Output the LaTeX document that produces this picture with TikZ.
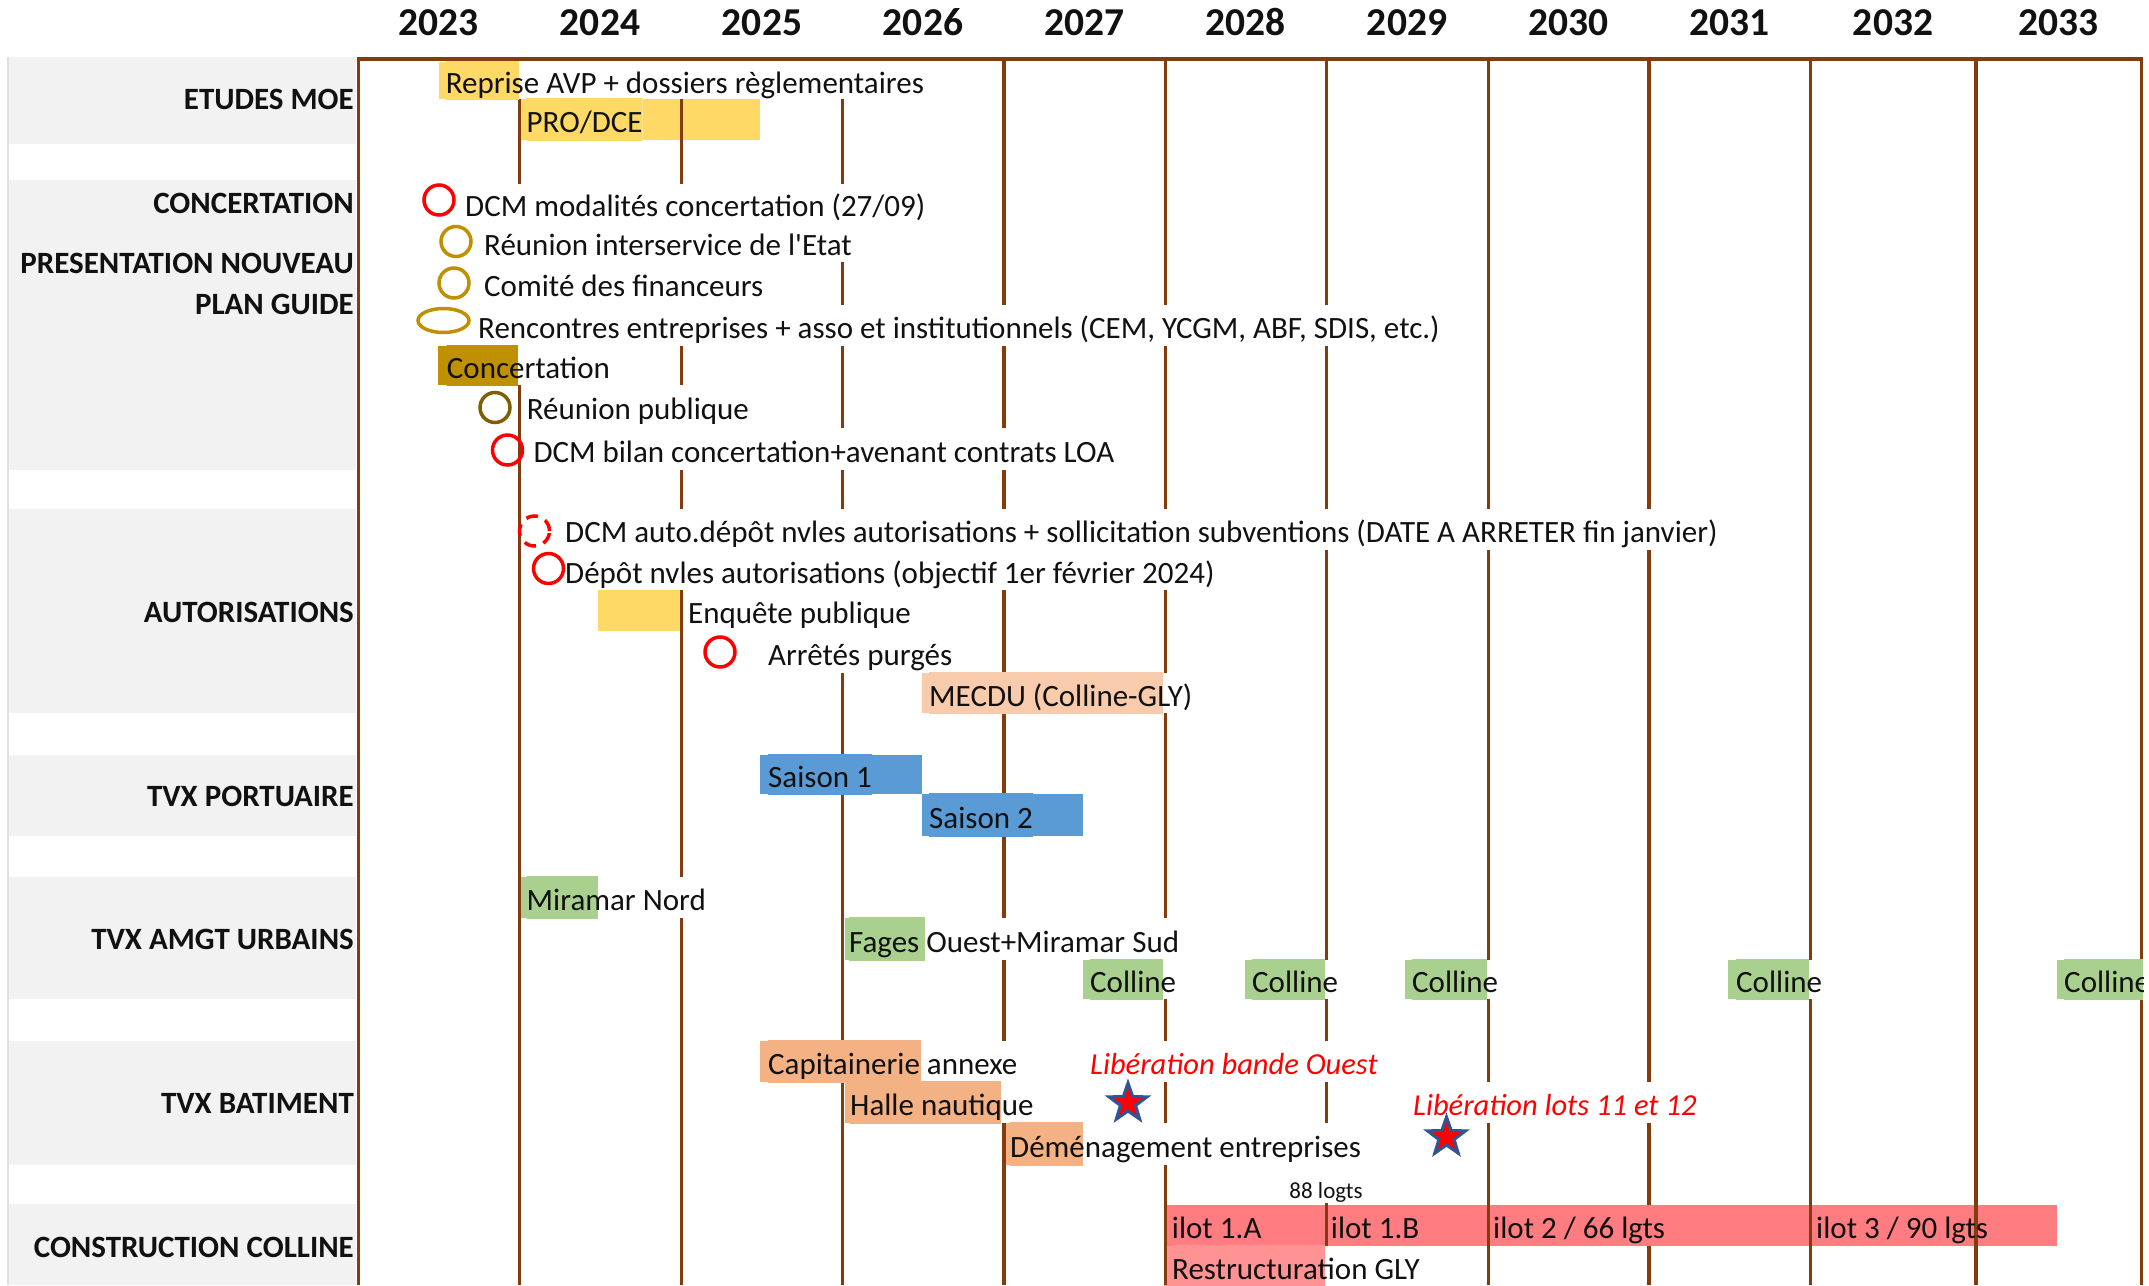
\documentclass[tikz,border=0pt]{standalone}
\usepackage{fontspec}
\setmainfont{Carlito}[Ligatures=TeXOff]
\usetikzlibrary{shapes.geometric}
\pgfdeclarelayer{bars}
\pgfdeclarelayer{grid}
\pgfdeclarelayer{knock}
\pgfsetlayers{bars,grid,knock,main}
\definecolor{brownline}{HTML}{843C0C}
\definecolor{yelbar}{HTML}{FFD966}
\definecolor{goldbar}{HTML}{BF9000}
\definecolor{ocircle}{HTML}{7F6000}
\definecolor{peachbar}{HTML}{F8CBAD}
\definecolor{bluebar}{HTML}{5B9BD5}
\definecolor{greenbar}{HTML}{A9D08E}
\definecolor{salmonbar}{HTML}{F4B183}
\definecolor{redbar}{HTML}{FF7C80}
\definecolor{pinkbar}{HTML}{FF9393}
\definecolor{panel}{HTML}{F2F2F2}
\definecolor{starline}{HTML}{2F5597}
\definecolor{txt}{HTML}{111111}
\newcommand{\mytxt}[6]{%
  \node[lbl,minimum height={#4-#3},#6] (#1) at (#2,{(#3+#4)/2}) {#5};
  \begin{pgfonlayer}{knock}\fill[white] (#1.south west) rectangle (#1.north east);\end{pgfonlayer}}
\newcommand{\mybar}[4]{%
  \begin{pgfonlayer}{knock}\begin{scope}\clip (#1.south west) rectangle (#1.north east);\fill[#2] (#3,0) rectangle (#4,1300);\end{scope}\end{pgfonlayer}}
\begin{document}
\begin{tikzpicture}[x=1pt,y=-1pt,
  lbl/.style={anchor=west,inner xsep=0pt,inner ysep=0pt,text height=27pt,text depth=1pt,font=\fontsize{31}{37}\selectfont,text=txt},
  rowlab/.style={anchor=base east,inner sep=0pt,font=\bfseries\fontsize{31}{37}\selectfont,text=txt},
  yearlab/.style={anchor=base,inner sep=0pt,font=\bfseries\fontsize{39.5}{46}\selectfont,text=txt},
  gl/.style={draw=brownline,line width=3pt},
  glt/.style={draw=brownline,line width=3.8pt},
  circ/.style={circle,minimum size=30pt,inner sep=0pt,line width=3.5pt},
  ell/.style={ellipse,minimum width=51pt,minimum height=24pt,inner sep=0pt,line width=3.5pt},
  starsty/.style={star,star points=5,star point ratio=2.5,minimum size=40pt,inner sep=0pt,fill=red,draw=starline,line width=3pt},
  redit/.style={font=\fontsize{30.5}{37}\selectfont\itshape,text=red}]
\useasboundingbox (0,0) rectangle (2149,1285);

% ---------- bars ----------
\begin{pgfonlayer}{bars}
\fill[white] (0,0) rectangle (2149,1285);
\fill[yelbar] (439,61.5) rectangle (519,99);
\fill[yelbar] (521,99) rectangle (760,140);
\fill[goldbar] (438,345.5) rectangle (518,385);
\fill[yelbar] (598,590) rectangle (681,631);
\fill[peachbar] (922,673) rectangle (1163,713);
\fill[bluebar] (760,755) rectangle (922,794);
\fill[bluebar] (922,794) rectangle (1083,836);
\fill[greenbar] (521,877) rectangle (598,918);
\fill[greenbar] (845,918) rectangle (925,960);
\fill[greenbar] (1083,960) rectangle (1163,999);
\fill[greenbar] (1245,960) rectangle (1325,999);
\fill[greenbar] (1405,960) rectangle (1487,999);
\fill[greenbar] (1728,960) rectangle (1809,999);
\fill[greenbar] (2057,960) rectangle (2143,999);
\fill[salmonbar] (760,1041) rectangle (921,1082);
\fill[salmonbar] (845,1082) rectangle (1001,1123);
\fill[salmonbar] (1006,1123) rectangle (1083,1165);
\fill[pinkbar] (1164,1246) rectangle (1325,1290);
\end{pgfonlayer}

% ---------- grid ----------
\begin{pgfonlayer}{grid}
\fill[panel] (8,57) rectangle (356,144);
\fill[panel] (8,180) rectangle (356,470);
\fill[panel] (8,509) rectangle (356,713);
\fill[panel] (8,755) rectangle (356,836);
\fill[panel] (8,877) rectangle (356,999);
\fill[panel] (8,1041) rectangle (356,1165);
\fill[panel] (8,1204) rectangle (356,1285);
\draw[black!12,line width=1.5pt] (8,57) -- (8,1285);
\foreach \xx in {358,519,681,842.6,1165,1326,1488,1810,2141.5}{\draw[gl] (\xx,59) -- (\xx,1285);}
\foreach \xx in {1004,1649,1976}{\draw[glt] (\xx,59) -- (\xx,1285);}
\draw[brownline,line width=4pt] (356.5,59) -- (2143,59);
\end{pgfonlayer}

% ---------- years ----------
\node[yearlab] (y2023) at (438.5,35) {2023};
\node[yearlab] (y2024) at (600,35) {2024};
\node[yearlab] (y2025) at (762,35) {2025};
\node[yearlab] (y2026) at (923,35) {2026};
\node[yearlab] (y2027) at (1084.5,35) {2027};
\node[yearlab] (y2028) at (1245.5,35) {2028};
\node[yearlab] (y2029) at (1407,35) {2029};
\node[yearlab] (y2030) at (1568.5,35) {2030};
\node[yearlab] (y2031) at (1729.5,35) {2031};
\node[yearlab] (y2032) at (1893,35) {2032};
\node[yearlab] (y2033) at (2058.5,35) {2033};

% ---------- row labels ----------
\node[rowlab] (l1) at (354,109) {ETUDES MOE};
\node[rowlab] (l2) at (354,213) {CONCERTATION};
\node[rowlab] (l3) at (354,273) {PRESENTATION NOUVEAU};
\node[rowlab] (l4) at (354,314) {PLAN GUIDE};
\node[rowlab] (l5) at (354,622) {AUTORISATIONS};
\node[rowlab] (l6) at (354,806) {TVX PORTUAIRE};
\node[rowlab] (l7) at (354,949) {TVX AMGT URBAINS};
\node[rowlab] (l8) at (354,1113) {TVX BATIMENT};
\node[rowlab] (l9) at (354,1257) {CONSTRUCTION COLLINE};

% ---------- ETUDES MOE ----------
\mytxt{t1}{445.6}{61.5}{99}{Reprise AVP + dossiers règlementaires}{}\mybar{t1}{yelbar}{439}{519}
\mytxt{t2}{526.5}{99}{140}{PRO/DCE}{}\mybar{t2}{yelbar}{521}{760}

% ---------- CONCERTATION ----------
\mytxt{t3}{465}{184}{222}{DCM modalités concertation (27/09)}{}
\mytxt{t4}{484}{222}{262}{Réunion interservice de l'Etat}{}
\mytxt{t5}{484}{262}{305}{Comité des financeurs}{}
\mytxt{t6}{478}{305}{345.5}{Rencontres entreprises + asso et institutionnels (CEM, YCGM, ABF, SDIS, etc.)}{}
\mytxt{t7}{446.7}{345.5}{385}{Concertation}{}\mybar{t7}{goldbar}{438}{518}
\mytxt{t8}{526.7}{385}{428}{Réunion publique}{}
\mytxt{t9}{533.3}{428}{470}{DCM bilan concertation+avenant contrats LOA}{}
\node[circ,draw=red] (c1) at (439,200) {};
\node[circ,draw=goldbar] (c2) at (456,241.5) {};
\node[circ,draw=goldbar] (c3) at (454,283) {};
\node[ell,draw=goldbar] (c4) at (443.5,320.5) {};
\node[circ,draw=ocircle] (c5) at (495,407.5) {};
\node[circ,draw=red] (c6) at (507.5,450) {};

% ---------- AUTORISATIONS ----------
\mytxt{t10}{565}{509}{550}{DCM auto.dépôt nvles autorisations + sollicitation subventions (DATE A ARRETER fin janvier)}{}
\mytxt{t11}{565}{550}{590}{Dépôt nvles autorisations (objectif 1er février 2024)}{}
\mytxt{t12}{688}{590}{631}{Enquête publique}{}
\mytxt{t13}{768}{631}{673}{Arrêtés purgés}{}
\mytxt{t14}{929}{673}{713}{MECDU (Colline-GLY)}{}\mybar{t14}{peachbar}{922}{1163}
\node[circ,draw=red,dash pattern=on 12pt off 8pt] (c7) at (534.5,531) {};
\node[circ,draw=red] (c8) at (548.5,568.5) {};
\node[circ,draw=red] (c9) at (720,652) {};

% ---------- TVX PORTUAIRE ----------
\mytxt{t15}{768}{755}{794}{Saison 1}{}\mybar{t15}{bluebar}{760}{922}
\mytxt{t16}{929}{794}{836}{Saison 2}{}\mybar{t16}{bluebar}{922}{1083}

% ---------- TVX AMGT URBAINS ----------
\mytxt{t17}{526.5}{877}{918}{Miramar Nord}{}\mybar{t17}{greenbar}{521}{598}
\mytxt{t18}{849}{918}{960}{Fages Ouest+Miramar Sud}{}\mybar{t18}{greenbar}{845}{925}
\mytxt{t19}{1090}{960}{999}{Colline}{}\mybar{t19}{greenbar}{1083}{1163}
\mytxt{t20}{1252}{960}{999}{Colline}{}\mybar{t20}{greenbar}{1245}{1325}
\mytxt{t21}{1412}{960}{999}{Colline}{}\mybar{t21}{greenbar}{1405}{1487}
\mytxt{t22}{1736}{960}{999}{Colline}{}\mybar{t22}{greenbar}{1728}{1809}
\begin{scope}
\clip (2000,940) rectangle (2143,1020);
\mytxt{t23}{2064}{960}{999}{Colline}{}\mybar{t23}{greenbar}{2057}{2143}
\end{scope}

% ---------- TVX BATIMENT ----------
\mytxt{t24}{768}{1041}{1082}{Capitainerie annexe}{}\mybar{t24}{salmonbar}{760}{921}
\mytxt{t25}{850}{1082}{1123}{Halle nautique}{}\mybar{t25}{salmonbar}{845}{1001}
\mytxt{t26}{1010}{1123}{1165}{Déménagement entreprises}{}\mybar{t26}{salmonbar}{1006}{1083}
\mytxt{t27}{1090}{1041}{1082}{Libération bande Ouest}{redit}
\mytxt{t28}{1413}{1082}{1123}{Libération lots 11 et 12}{redit}
\node[starsty] (s1) at (1128,1103) {};
\node[starsty] (s2) at (1446.5,1137) {};

% ---------- CONSTRUCTION COLLINE ----------
\mytxt{t29}{1326}{1165}{1205}{88 logts}{anchor=center,font=\fontsize{23}{28}\selectfont,text height=27pt,text depth=1pt}
\mytxt{t30}{1171.7}{1205}{1246}{ilot 1.A}{}
\mytxt{t31}{1330.7}{1205}{1246}{ilot 1.B}{}
\mytxt{t32}{1493}{1205}{1246}{ilot 2 / 66 lgts}{}
\mytxt{t33}{1816}{1205}{1246}{ilot 3 / 90 lgts}{}
\begin{pgfonlayer}{knock}
\fill[redbar] (1164,1205) rectangle (2057,1246);
\foreach \xx in {1165,1326,1488,1810}{\draw[gl] (\xx,1203) -- (\xx,1248);}
\draw[glt] (1976,1203) -- (1976,1248);
\end{pgfonlayer}
\mytxt{t34}{1172}{1246}{1287}{Restructuration GLY}{}\mybar{t34}{pinkbar}{1164}{1325}
\end{tikzpicture}
\end{document}
